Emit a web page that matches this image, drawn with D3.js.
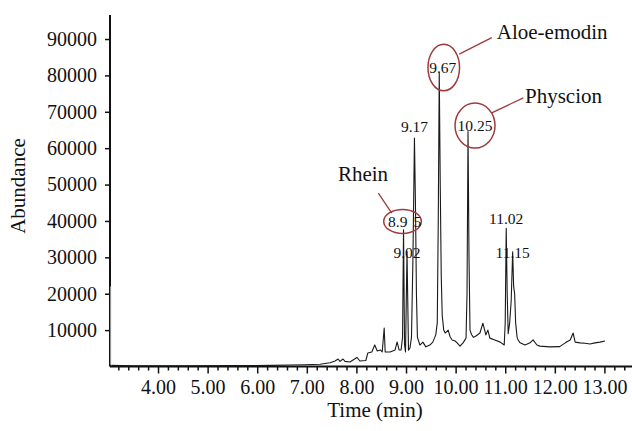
<!DOCTYPE html>
<html>
<head>
<meta charset="utf-8">
<script src="https://cdn.jsdelivr.net/npm/d3@7"></script>
<style>
  html, body { margin: 0; padding: 0; background: #fff; }
  svg text { font-family: "Liberation Serif", "DejaVu Serif", serif; fill: #111; }
</style>
</head>
<body>
<svg id="chart" width="632" height="431"></svg>
<script>
// ---- data ----
const times = [3.06, 3.5, 4.5, 5.5, 6.3, 6.66, 6.96, 7.27, 7.47, 7.57, 7.63, 7.67, 7.73, 7.77, 7.87, 8.01, 8.07,
  8.19, 8.23, 8.31, 8.37, 8.42, 8.48, 8.52, 8.56, 8.58, 8.68, 8.78, 8.82, 8.86, 8.90, 8.93, 8.95, 8.97, 8.99,
  9.02, 9.05, 9.08, 9.11, 9.14, 9.17, 9.19, 9.21, 9.23, 9.28, 9.34, 9.40, 9.48, 9.54, 9.60, 9.63, 9.65, 9.67,
  9.69, 9.71, 9.73, 9.76, 9.79, 9.85, 9.89, 9.93, 9.99, 10.03, 10.09, 10.15, 10.21, 10.23, 10.25, 10.27, 10.29,
  10.32, 10.36, 10.41, 10.49, 10.55, 10.61, 10.65, 10.69, 10.79, 10.90, 10.98, 11.00, 11.02, 11.04, 11.06,
  11.09, 11.12, 11.15, 11.17, 11.19, 11.21, 11.24, 11.26, 11.30, 11.40, 11.50, 11.56, 11.64, 11.70, 11.90,
  12.10, 12.21, 12.31, 12.37, 12.41, 12.51, 12.61, 12.71, 12.81, 12.91, 13.01];
const abundance = [300, 200, 200, 250, 300, 400, 500, 600, 1050, 1500, 2060, 1400, 2060, 1400, 1240, 2480, 1510,
  1650, 3720, 3990, 5920, 4270, 4540, 3990, 10600, 3990, 3990, 4540, 6740, 4540, 4540, 8000, 37600, 6000, 4000,
  31600, 4500, 5100, 8000, 30000, 62800, 45000, 20000, 8000, 5900, 6700, 5400, 5900, 6700, 8700, 12000, 40000, 80700,
  50000, 25000, 14000, 10000, 9200, 10000, 8100, 7300, 7000, 6500, 5600, 6500, 7800, 20000, 64600, 30000, 10000,
  8800, 8000, 8400, 9200, 11900, 8700, 10000, 7800, 7300, 6700, 5900, 12000, 38000, 20000, 9000,
  12000, 18000, 31500, 22000, 20000, 12000, 8000, 7300, 6500, 5900, 6500, 7300, 5900, 5600, 5400,
  5450, 6500, 7300, 9200, 6700, 6500, 6400, 6200, 6500, 6700, 7000];
const startTimes = [3.045, 3.045, 3.06];
const startValues = [22000, 500, 300];

const yTickValues = [10000, 20000, 30000, 40000, 50000, 60000, 70000, 80000, 90000];
const xTickValues = [4, 5, 6, 7, 8, 9, 10, 11, 12, 13];

const peakNames = ["9.17", "9.02", "11.02", "11.15"];
const peakLabelTimes = [9.17, 9.02, 11.02, 11.15];
const peakLabelValues = [64400, 29800, 39200, 29900];

const compoundNames = ["Rhein", "Aloe-emodin", "Physcion"];
const compoundPeaks = ["8.95", "9.67", "10.25"];
const compoundTimes = [8.95, 9.67, 10.25];
const compoundLabelValues = [38400, 80700, 64700];

// ---- scales ----
const svg = d3.select("#chart");
const x = d3.scaleLinear().domain([3.032, 13.556]).range([110, 632]);
const y = d3.scaleLinear().domain([0, 96600]).range([366.5, 15]);

const axisColor = "#111";

// Y axis
const yAxis = svg.append("g").attr("transform", "translate(110,0)")
  .call(d3.axisLeft(y).tickValues(yTickValues).tickSize(5).tickPadding(8).tickFormat(d3.format("d")));
yAxis.select(".domain").attr("d", `M0,${y(0)}V15`).attr("stroke", axisColor).attr("stroke-width", 2);
yAxis.selectAll(".tick line").attr("stroke", axisColor).attr("stroke-width", 1.5);
yAxis.selectAll(".tick text").attr("font-size", 20).attr("fill", "#111")
  .style("font-family", "'Liberation Serif', serif");

// X axis minor ticks
const minorTicks = d3.range(3.2, 13.5, 0.2).filter(v => Math.abs(v - Math.round(v)) > 0.05);
svg.append("g").attr("transform", `translate(0,${y(0)})`)
  .call(d3.axisBottom(x).tickValues(minorTicks).tickSize(4).tickFormat(""))
  .call(g => g.select(".domain").remove())
  .call(g => g.selectAll(".tick line").attr("stroke", axisColor).attr("stroke-width", 1.5));

// X axis major
const xAxis = svg.append("g").attr("transform", `translate(0,${y(0)})`)
  .call(d3.axisBottom(x).tickValues(xTickValues).tickSize(7).tickPadding(6).tickFormat(d3.format(".2f")));
xAxis.select(".domain").attr("d", `M110,0H632`).attr("stroke", axisColor).attr("stroke-width", 2);
xAxis.selectAll(".tick line").attr("stroke", axisColor).attr("stroke-width", 1.5);
xAxis.selectAll(".tick text").attr("font-size", 20).attr("fill", "#111")
  .style("font-family", "'Liberation Serif', serif");

// Axis titles
svg.append("text").attr("x", 375).attr("y", 417).attr("text-anchor", "middle")
  .attr("font-size", 21).text("Time (min)");
svg.append("text").attr("transform", "translate(25,186) rotate(-90)").attr("text-anchor", "middle")
  .attr("font-size", 21).text("Abundance");

// trace
const line = d3.line().x(d => x(d[0])).y(d => y(d[1]));
svg.append("path").datum(startTimes.map((t, i) => [t, startValues[i]]))
  .attr("d", line).attr("fill", "none").attr("stroke", "#aaa").attr("stroke-width", 1);
svg.append("path").datum(times.map((t, i) => [t, abundance[i]]))
  .attr("d", line).attr("fill", "none").attr("stroke", "#1a1a1a").attr("stroke-width", 1.1)
  .attr("stroke-linejoin", "round");

// peak labels
const labelSize = 15.5;
svg.selectAll(".plabel").data(peakNames).join("text").attr("class", "plabel")
  .attr("x", (d, i) => x(peakLabelTimes[i])).attr("y", (d, i) => y(peakLabelValues[i]))
  .attr("text-anchor", "middle").attr("font-size", labelSize).text(d => d);

// compound annotations
const red = "#9e3b3d";
const ellipses = [
  {rx: 18.8, ry: 12, dx: -1, dy: -5.3},
  {rx: 15.8, ry: 23.3, dx: 4.5, dy: -5.3},
  {rx: 20, ry: 22.5, dx: 7, dy: -5.5}
];
const textShift = [0, 3.5, 7];
const nameOffsets = [[-40.5, -46], [57.5, -34], [57, -28.5]];
const leaderEnds = [[[-25.2, -33.7], [-11.8, -13.7]], [[20, -18.7], [52.5, -35.3]], [[23.7, -18.2], [55.3, -33.2]]];
compoundNames.forEach((name, i) => {
  const cx = x(compoundTimes[i]);
  const cy = y(compoundLabelValues[i]);
  const e = ellipses[i];
  svg.append("ellipse").attr("cx", cx + e.dx).attr("cy", cy + e.dy).attr("rx", e.rx).attr("ry", e.ry)
    .attr("fill", "none").attr("stroke", red).attr("stroke-width", 1.5);
  const le = leaderEnds[i];
  svg.append("line").attr("x1", cx + le[0][0]).attr("y1", cy + le[0][1])
    .attr("x2", cx + le[1][0]).attr("y2", cy + le[1][1])
    .attr("stroke", red).attr("stroke-width", 1.3);
  if (i === 0) {
    const t = svg.append("text").attr("x", cx - 15.5).attr("y", cy)
      .attr("font-size", labelSize);
    t.append("tspan").text(compoundPeaks[i].slice(0, 3));
    t.append("tspan").attr("dx", 6).text(compoundPeaks[i].slice(3));
  } else {
    svg.append("text").attr("x", cx + textShift[i]).attr("y", cy).attr("text-anchor", "middle")
      .attr("font-size", labelSize).text(compoundPeaks[i]);
  }
  const no = nameOffsets[i];
  svg.append("text").attr("x", cx + no[0]).attr("y", cy + no[1])
    .attr("text-anchor", i === 0 ? "middle" : "start")
    .attr("font-size", 21).text(name);
});
</script>
</body>
</html>
